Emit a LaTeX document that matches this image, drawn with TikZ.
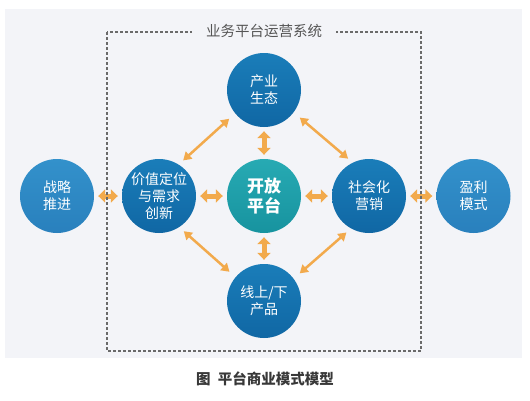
\documentclass[tikz,border=0pt]{standalone}
\usepackage{fontspec}
\setmainfont{Noto Sans CJK SC}
\usetikzlibrary{arrows.meta}
\definecolor{bgc}{HTML}{F3F4F8}
\definecolor{innertop}{HTML}{1A7DB9}
\definecolor{innerbot}{HTML}{1067A4}
\definecolor{outertop}{HTML}{3391CB}
\definecolor{outerbot}{HTML}{2980BD}
\definecolor{coretop}{HTML}{27AAB3}
\definecolor{corebot}{HTML}{17939F}
\definecolor{arr}{HTML}{F2AA4C}
\definecolor{dashc}{HTML}{6A6A6A}
\definecolor{titc}{HTML}{555555}
\definecolor{capc}{HTML}{383838}
\begin{document}
\begin{tikzpicture}[x=1pt,y=-1pt,
  circ/.style={circle, minimum size=74pt, inner sep=0pt, text=white,
    font=\fontsize{14}{17}\selectfont, align=center},
  innerc/.style={circ, top color=innertop, bottom color=innerbot},
  outerc/.style={circ, top color=outertop, bottom color=outerbot},
  corenode/.style={circ, top color=coretop, bottom color=corebot,
    font=\bfseries\fontsize{17}{20}\selectfont},
  thinarr/.style={draw=arr, line width=2.5pt,
    {Triangle[length=8pt,width=9.5pt]}-{Triangle[length=8pt,width=9.5pt]},
    shorten <=8pt, shorten >=6pt},
  thickarr/.style={draw=arr, line width=5pt,
    {Triangle[length=7pt,width=13pt]}-{Triangle[length=7pt,width=13pt]},
    shorten >=4pt, shorten <=4pt},
  dashbox/.style={draw=dashc, line width=1.2pt, dash pattern=on 3pt off 2pt},
  titlenode/.style={fill=bgc, text=titc, inner xsep=14pt, inner ysep=2pt,
    font=\fontsize{14.5}{17}\selectfont},
  capnode/.style={text=capc, font=\bfseries\fontsize{14.5}{17}\selectfont}
]
\useasboundingbox[fill=white] (0,0) rectangle (530,400);
\fill[bgc] (5,9) rectangle (522,358);

\node[innerc] (cy) at (264,90) {产业\\生态};
\node[corenode] (kf) at (264,196) {开放\\平台};
\node[innerc] (jz) at (159,196) {价值定位\\与需求\\创新};
\node[innerc] (sh) at (369,196) {社会化\\营销};
\node[innerc] (xs) at (264,301) {线上/下\\产品};
\node[outerc] (zl) at (57,196) {战略\\推进};
\node[outerc] (yl) at (473.5,196) {盈利\\模式};

\draw[thinarr] (cy.-141) -- (jz.58);
\draw[thinarr] (cy.-37) -- (sh.116);
\draw[thinarr] (xs.140) -- (jz.-57);
\draw[thinarr] (xs.37) -- (sh.-119);
\draw[thickarr] (cy) -- (kf);
\draw[thickarr] (kf) -- (xs);
\draw[thickarr] (jz) -- (kf);
\draw[thickarr] (kf) -- (sh);
\draw[thickarr] (zl) -- (jz);
\draw[thickarr] (sh) -- (yl);

\draw[dashbox] (107,32) rectangle (421,351);
\node[titlenode] (title) at (264,31) {业务平台运营系统};
\node[capnode] (cap) at (265,379) {图\hspace{0.5em}平台商业模式模型};
\end{tikzpicture}
\end{document}
